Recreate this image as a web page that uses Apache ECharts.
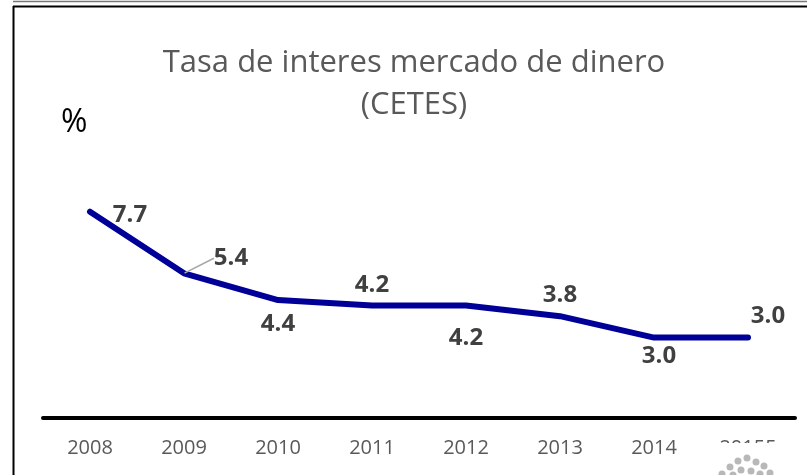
<!DOCTYPE html>
<html>
<head>
<meta charset="utf-8">
<script src="https://cdn.jsdelivr.net/npm/echarts@6/dist/echarts.min.js"></script>
<style>
  html, body { margin: 0; padding: 0; background: #fff; }
  #main { width: 807px; height: 475px; }
</style>
</head>
<body>
<div id="main"></div>
<script>
// datos
var years = ['2008', '2009', '2010', '2011', '2012', '2013', '2014', '20155'];
var cetes = [7.7, 5.4, 4.4, 4.2, 4.2, 3.8, 3.0, 3.0];
// desplazamiento de cada etiqueta respecto a su punto
var labelShift = [[40, 4], [47, -15], [0, 24], [0, -20], [0, 33], [0, -21], [5, 19], [20, -21]];

var myChart = echarts.init(document.getElementById('main'));

var points = cetes.map(function (v, i) {
    var item = { value: v };
    if (i === 1) {
        item.labelLine = { show: true, lineStyle: { color: '#a6a6a6', width: 1.5 } };
    }
    return item;
});

// logo de puntos abajo a la derecha
var dots = [[730, 467], [738, 461], [747, 458], [756, 462], [764, 466], [741, 470], [751, 471], [760, 474], [722, 474], [733, 475], [770, 473]];
var graphics = [
    { type: 'line', shape: { x1: 13, y1: 1.5, x2: 807, y2: 1.5 }, style: { stroke: '#777', lineWidth: 1.5 } },
    { type: 'line', shape: { x1: 13, y1: 6.5, x2: 807, y2: 6.5 }, style: { stroke: '#000', lineWidth: 2 } },
    { type: 'line', shape: { x1: 13.5, y1: 6, x2: 13.5, y2: 475 }, style: { stroke: '#000', lineWidth: 2 } },
    { type: 'rect', shape: { x: 700, y: 443, width: 100, height: 32 }, style: { fill: '#fff' }, z: 100 }
];
dots.forEach(function (d) {
    graphics.push({ type: 'circle', shape: { cx: d[0], cy: d[1], r: 3.5 }, style: { fill: '#b8b8b8' }, z: 101 });
});

var option = {
    backgroundColor: '#fff',
    title: [
        {
            text: 'Tasa de interes mercado de dinero\n(CETES)',
            left: 409,
            top: 37,
            textAlign: 'center',
            textStyle: { fontFamily: 'Open Sans', fontSize: 31, fontWeight: 'normal', color: '#595959', lineHeight: 42 }
        },
        {
            text: '%',
            left: 56,
            top: 102,
            textStyle: { fontFamily: 'Open Sans', fontSize: 32, fontWeight: 'normal', color: '#000' }
        }
    ],
    grid: { left: 43, right: 12, top: 150, bottom: 57 },
    xAxis: {
        type: 'category',
        data: years,
        boundaryGap: true,
        axisLine: { lineStyle: { color: '#000', width: 4 } },
        axisTick: { show: false },
        axisLabel: { margin: 20, fontFamily: 'Open Sans', fontSize: 20, color: '#595959' }
    },
    yAxis: {
        type: 'value',
        min: 0,
        max: 10,
        show: false,
        splitLine: { show: false }
    },
    series: [
        {
            type: 'line',
            data: points,
            showSymbol: true,
            symbol: 'circle',
            symbolSize: 1,
            itemStyle: { color: '#000099' },
            lineStyle: { color: '#000099', width: 6, cap: 'round', join: 'round' },
            label: {
                show: true,
                position: 'inside',
                formatter: function (p) { return p.value.toFixed(1); },
                fontFamily: 'Open Sans',
                fontWeight: 'bold',
                fontSize: 24,
                color: '#404040'
            },
            labelLayout: function (params) {
                var s = labelShift[params.dataIndex];
                return { dx: s[0], dy: s[1] };
            },
            labelLine: { show: false }
        }
    ],
    graphic: graphics
};

myChart.setOption(option);
</script>
</body>
</html>
